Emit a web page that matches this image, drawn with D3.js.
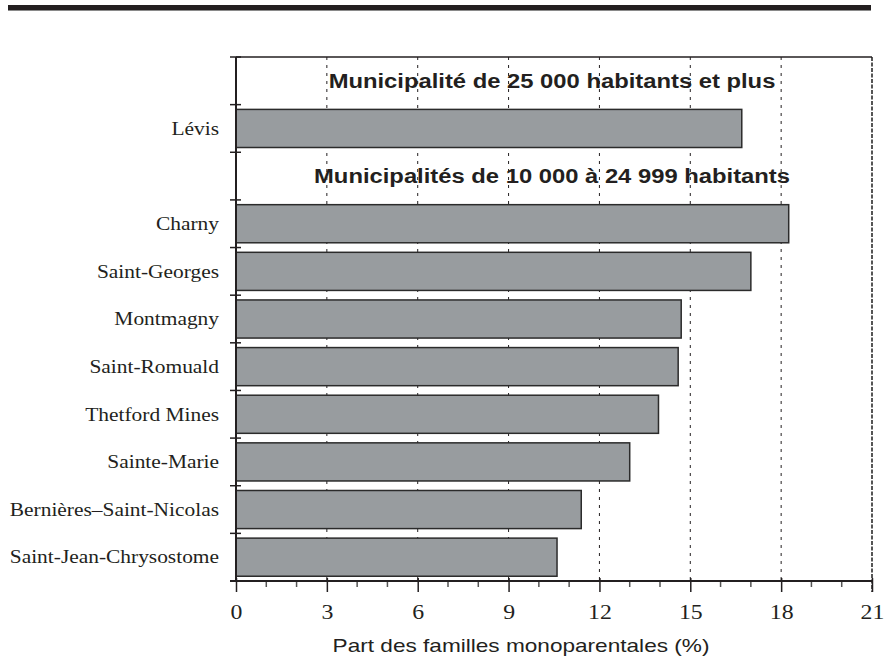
<!DOCTYPE html>
<html>

<head>
    <meta charset="utf-8">
    <style>
        body {
            margin: 0;
            background: white;
        }

        svg {
            display: block;
        }

        .cat-label {
            font-family: 'Liberation Serif', 'Times New Roman', serif;
            font-size: 18px;
            fill: #231f20;
        }

        .tick-label {
            font-family: 'Liberation Serif', 'Times New Roman', serif;
            font-size: 20px;
            fill: #231f20;
        }

        .heading {
            font-family: 'Liberation Sans', Arial, sans-serif;
            font-weight: bold;
            font-size: 20px;
            fill: #231f20;
        }

        .axis-title {
            font-family: 'Liberation Sans', Arial, sans-serif;
            font-size: 19px;
            fill: #231f20;
        }
    </style>
</head>

<body>
    <svg width="896" height="660"></svg>
</body>

<script src="https://d3js.org/d3.v7.min.js"></script>

<script>
    // rows from top to bottom, headers take a row of their own
    let rows = ["h1", "Lévis", "h2", "Charny", "Saint-Georges", "Montmagny", "Saint-Romuald",
        "Thetford Mines", "Sainte-Marie", "Bernières–Saint-Nicolas", "Saint-Jean-Chrysostome"]
    let headings = ["Municipalité de 25 000 habitants et plus", "Municipalités de 10 000 à 24 999 habitants"]
    let cities = ["Lévis", "Charny", "Saint-Georges", "Montmagny", "Saint-Romuald",
        "Thetford Mines", "Sainte-Marie", "Bernières–Saint-Nicolas", "Saint-Jean-Chrysostome"]
    let values = [16.7, 18.25, 17.0, 14.7, 14.6, 13.95, 13.0, 11.4, 10.6]
    let majorTicks = [0, 3, 6, 9, 12, 15, 18, 21]
    let axisTitle = "Part des familles monoparentales (%)"

    let plotLeft = 236, plotRight = 872, plotTop = 57, plotBottom = 581
    let stretch = 1.19 // the original type is set a little wide

    let svg = d3.select("svg")

    // black rule at the very top
    svg.append("rect")
        .attr("x", 8).attr("y", 5)
        .attr("width", 863).attr("height", 5)
        .attr("fill", "#231f20")
    svg.append("line")
        .attr("x1", 8).attr("x2", 871)
        .attr("y1", 10.5).attr("y2", 10.5)
        .attr("stroke", "#8a8a8a")

    let x = d3.scaleLinear()
        .domain([0, 21])
        .range([plotLeft, plotRight])

    let y = d3.scaleBand()
        .domain(rows)
        .range([plotTop, plotBottom])
        .padding(0)

    let step = y.step()

    // dotted grid
    svg.append("g")
        .selectAll("line")
        .data(majorTicks.filter(t => t > 0 && t < 21))
        .join("line")
        .attr("x1", d => x(d)).attr("x2", d => x(d))
        .attr("y1", plotTop).attr("y2", plotBottom)
        .attr("stroke", "#231f20")
        .attr("stroke-width", 1)
        .attr("stroke-dasharray", "3,5")

    // right border, dense dashes
    svg.append("line")
        .attr("x1", x(21)).attr("x2", x(21))
        .attr("y1", plotTop).attr("y2", plotBottom + 11)
        .attr("stroke", "#555")
        .attr("stroke-width", 2)
        .attr("stroke-dasharray", "4,1.5")

    // top border
    svg.append("line")
        .attr("x1", plotLeft).attr("x2", x(21))
        .attr("y1", plotTop).attr("y2", plotTop)
        .attr("stroke", "#231f20")
        .attr("stroke-width", 1.5)

    // bars
    svg.append("g")
        .selectAll("rect")
        .data(cities)
        .join("rect")
        .attr("x", x(0))
        .attr("y", d => y(d) + step * 0.1)
        .attr("width", (d, i) => x(values[i]) - x(0))
        .attr("height", step * 0.8)
        .attr("fill", "#989c9f")
        .attr("stroke", "#2b2b2b")
        .attr("stroke-width", 1.5)

    // category labels
    svg.append("g")
        .selectAll("text")
        .data(cities)
        .join("text")
        .attr("class", "cat-label")
        .attr("transform", d => "translate(219," + (y(d) + step / 2) + ") scale(" + stretch + ",1)")
        .attr("dy", "0.35em")
        .attr("text-anchor", "end")
        .text(d => d)

    // group headings
    svg.append("g")
        .selectAll("text")
        .data(headings)
        .join("text")
        .attr("class", "heading")
        .attr("transform", (d, i) => "translate(552," + (y(["h1", "h2"][i]) + step / 2) + ") scale(" + stretch + ",1)")
        .attr("dy", "0.35em")
        .attr("text-anchor", "middle")
        .text(d => d)

    // left axis with ticks at row boundaries
    svg.append("line")
        .attr("x1", plotLeft).attr("x2", plotLeft)
        .attr("y1", plotTop).attr("y2", plotBottom)
        .attr("stroke", "#231f20")
        .attr("stroke-width", 2)
    let bounds = rows.map(r => y(r)).concat([plotBottom])
    svg.append("g")
        .selectAll("line")
        .data(bounds)
        .join("line")
        .attr("x1", plotLeft - 6).attr("x2", plotLeft + 5)
        .attr("y1", d => d).attr("y2", d => d)
        .attr("stroke", "#231f20")
        .attr("stroke-width", 1.5)

    // bottom axis
    let xAxis = d3.axisBottom(x)
        .tickValues(majorTicks)
        .tickSize(11)
        .tickPadding(8)
        .tickFormat(d3.format("d"))

    let gx = svg.append("g")
        .attr("transform", "translate(0," + plotBottom + ")")
        .call(xAxis)
    gx.select(".domain").remove()
    gx.attr("font-size", null).attr("font-family", null)
    gx.selectAll(".tick line")
        .attr("y1", -3)
        .attr("stroke", "#231f20")
        .attr("stroke-width", 1.5)
    gx.selectAll(".tick text")
        .attr("class", "tick-label")
        .attr("fill", null)
        .attr("y", null)
        .attr("dy", null)
        .attr("transform", "translate(0,38) scale(" + stretch + ",1)")

    // minor ticks every unit
    svg.append("g")
        .selectAll("line")
        .data(d3.range(1, 21).filter(d => d % 3 != 0))
        .join("line")
        .attr("x1", d => x(d)).attr("x2", d => x(d))
        .attr("y1", plotBottom).attr("y2", plotBottom + 6)
        .attr("stroke", "#555")
        .attr("stroke-width", 1.5)

    svg.append("line")
        .attr("x1", plotLeft - 6).attr("x2", x(21))
        .attr("y1", plotBottom).attr("y2", plotBottom)
        .attr("stroke", "#231f20")
        .attr("stroke-width", 2)

    svg.append("text")
        .attr("class", "axis-title")
        .attr("transform", "translate(521,652) scale(" + stretch + ",1)")
        .attr("text-anchor", "middle")
        .text(axisTitle)
</script>

</html>
